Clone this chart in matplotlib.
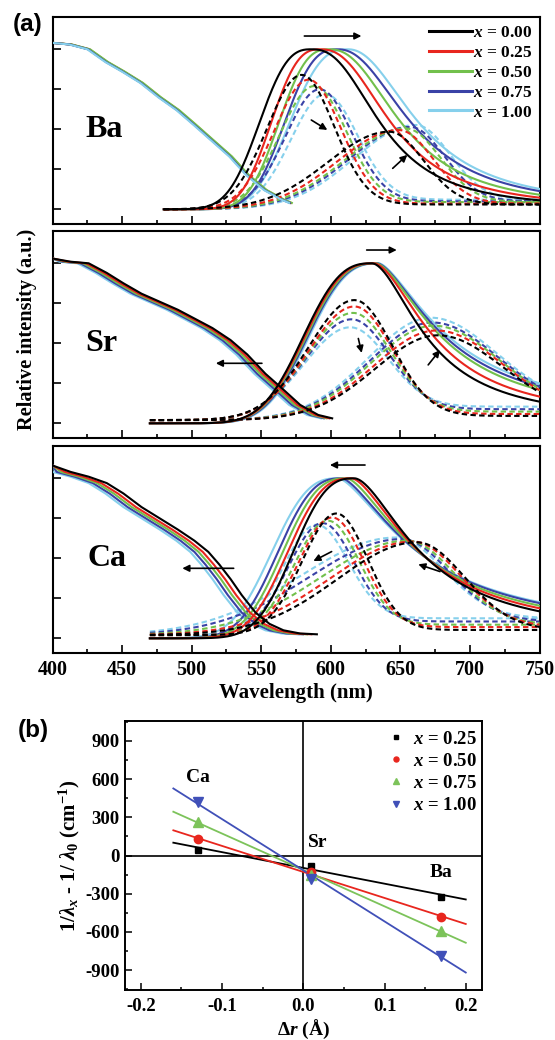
import numpy as np
import matplotlib
matplotlib.use("Agg")
import matplotlib.pyplot as plt
from matplotlib.ticker import MultipleLocator, FuncFormatter
from matplotlib.lines import Line2D

plt.rcParams['font.family'] = ['Liberation Serif', 'DejaVu Serif']
plt.rcParams['font.weight'] = 'bold'
plt.rcParams['mathtext.fontset'] = 'custom'
plt.rcParams['mathtext.rm'] = 'Liberation Serif:bold'
plt.rcParams['mathtext.it'] = 'Liberation Serif:italic:bold'
plt.rcParams['mathtext.bf'] = 'Liberation Serif:bold'
plt.rcParams['axes.unicode_minus'] = False

# ---------------- data: panel (a) ----------------
COMPOSITIONS = ['0.00', '0.25', '0.50', '0.75', '1.00']
COLORS = ['#000000', '#e8261e', '#72c04c', '#3a42a6', '#86d0ec']
PANELS = ['Ba', 'Sr', 'Ca']

# excitation spectra (x = 0.00), wavelength (nm) and relative intensity
BA_EXC_NM = [400, 413, 426, 439, 451, 464, 477, 490, 502, 515, 528, 540, 553, 566, 571]
BA_EXC_I = [1.04, 1.03, 1.0, 0.92, 0.86, 0.79, 0.70, 0.62, 0.53, 0.43, 0.33, 0.215, 0.12, 0.058, 0.04]
SR_EXC_NM = [400, 413, 426, 439, 451, 464, 477, 490, 502, 515, 528, 540, 553, 566, 578, 591, 601]
SR_EXC_I = [1.03, 1.01, 1.0, 0.94, 0.875, 0.81, 0.76, 0.71, 0.655, 0.595, 0.52, 0.43, 0.31, 0.21, 0.115, 0.052, 0.031]
CA_EXC_NM = [400, 413, 426, 439, 451, 464, 477, 490, 502, 512, 520, 528, 536, 546, 556, 566, 578, 590]
CA_EXC_I = [1.08, 1.04, 1.01, 0.97, 0.905, 0.82, 0.75, 0.68, 0.61, 0.54, 0.46, 0.37, 0.27, 0.16, 0.09, 0.05, 0.03, 0.025]
# shift of excitation edge for x = 0.00 ... 1.00 (nm)
BA_EXC_SHIFT = [0, 0.5, 1, -0.5, -1]
SR_EXC_SHIFT = [0, -2, -4, -6, -8]
CA_EXC_SHIFT = [0, -4, -7, -10, -13]

# emission spectra (solid): peak, half widths left/right, red-tail exponent
EM_START = [480, 470, 470]
EM_END = 750
EM_EDGE = 2.7
BA_EM_PEAK = [586, 592.5, 599, 605, 612.5]
BA_EM_HW_L = [39, 37, 38, 40, 44]
BA_EM_HW_R = [53, 54.5, 55.5, 57, 55]
BA_EM_TAIL = [2.5, 2.4, 2.3, 2.2, 2.1]
SR_EM_PEAK = [629.5, 631, 632.5, 633.5, 634.5]
SR_EM_HW_L = [51.5, 52, 52.5, 52.5, 52.5]
SR_EM_HW_R = [43, 47.5, 52, 54, 56]
SR_EM_TAIL = [1.8, 1.75, 1.63, 1.57, 1.52]
CA_EM_PEAK = [617, 615, 611.5, 608, 605.5]
CA_EM_HW_L = [46, 48, 48, 48, 50]
CA_EM_HW_R = [52, 54, 57.5, 61, 63.5]
CA_EM_TAIL = [1.7, 1.6, 1.55, 1.5, 1.5]

# Gaussian components (dashed): peak, height, half widths (left, right), baselines
BA_C1_PEAK = [579, 584, 588, 592, 596]
BA_C1_HEIGHT = [0.84, 0.81, 0.77, 0.75, 0.72]
BA_C1_HW = [29, 27.5]
BA_C2_PEAK = [642, 649, 654, 657, 661]
BA_C2_HEIGHT = [0.485, 0.495, 0.505, 0.515, 0.527]
BA_C2_HW_L = [52, 52, 52, 52, 52]
BA_C2_HW_R = 29
BA_BASE_L = 0.0
BA_BASE_R = [0.03, 0.035, 0.045, 0.05, 0.06]

SR_C1_PEAK = [617, 617, 616, 615, 614]
SR_C1_HEIGHT = [0.77, 0.73, 0.69, 0.65, 0.60]
SR_C1_HW = [39, 32]
SR_C2_PEAK = [677, 676, 674, 673, 672]
SR_C2_HEIGHT = [0.55, 0.58, 0.61, 0.63, 0.66]
SR_C2_HW_L = [53, 53, 53, 53, 53]
SR_C2_HW_R = 55
SR_BASE_L = 0.02
SR_BASE_R = [0.046, 0.058, 0.073, 0.088, 0.104]

CA_C1_PEAK = [604, 601, 598, 594, 590]
CA_C1_HEIGHT = [0.78, 0.755, 0.735, 0.72, 0.71]
CA_C1_HW = [29, 26.6]
CA_C2_PEAK = [662, 659, 655, 651, 647]
CA_C2_HEIGHT = [0.60, 0.605, 0.61, 0.62, 0.63]
CA_C2_HW_L = [67, 70, 74, 78, 81]
CA_C2_HW_R = 40
CA_BASE_L = 0.02
CA_BASE_R = [0.052, 0.07, 0.085, 0.105, 0.125]

# ---------------- data: panel (b) ----------------
DELTA_R = [-0.13, 0.01, 0.17]          # Ca, Sr, Ba
SITE_LABELS = ['Ca', 'Sr', 'Ba']
B_COMPOSITIONS = ['0.25', '0.50', '0.75', '1.00']
SHIFT_025 = [47, -79, -322]
SHIFT_050 = [126, -130, -485]
SHIFT_075 = [262, -150, -595]
SHIFT_100 = [419, -181, -786]
FIT_RANGE = [-0.16, 0.20]
B_COLORS = ['#000000', '#e8261e', '#7cc35a', '#4050b8']
B_MARKERS = ['s', 'o', '^', 'v']

# ---------------- helpers ----------------
LN2 = np.log(2.0)


def emission(lam, mu, wl, wr, tail):
    d = lam - mu
    left = np.exp(-LN2 * (np.abs(d) / wl) ** EM_EDGE)
    right = 1.0 / (1.0 + (np.abs(d) / wr) ** tail)
    return np.where(d < 0, left, right)


def component(lam, mu, h, wl, wr, bl, br):
    d = lam - mu
    w = np.where(d < 0, wl, wr)
    g = np.exp(-LN2 * (d / w) ** 2)
    base = np.where(d < 0, bl, br)
    return base + (h - base) * g


W, H = 555, 1040
fig = plt.figure(figsize=(W / 100, H / 100), dpi=100)

ax_left = 52.5 / W
ax_w = 487 / W
ax_h = 206.4 / H
bottoms = [1 - 223.7 / H, 1 - 437.7 / H, 1 - 652.7 / H]

exc_nm = [BA_EXC_NM, SR_EXC_NM, CA_EXC_NM]
exc_i = [BA_EXC_I, SR_EXC_I, CA_EXC_I]
exc_shift = [BA_EXC_SHIFT, SR_EXC_SHIFT, CA_EXC_SHIFT]
em_peak = [BA_EM_PEAK, SR_EM_PEAK, CA_EM_PEAK]
em_hwl = [BA_EM_HW_L, SR_EM_HW_L, CA_EM_HW_L]
em_hwr = [BA_EM_HW_R, SR_EM_HW_R, CA_EM_HW_R]
em_tail = [BA_EM_TAIL, SR_EM_TAIL, CA_EM_TAIL]
c1_peak = [BA_C1_PEAK, SR_C1_PEAK, CA_C1_PEAK]
c1_h = [BA_C1_HEIGHT, SR_C1_HEIGHT, CA_C1_HEIGHT]
c1_hw = [BA_C1_HW, SR_C1_HW, CA_C1_HW]
c2_peak = [BA_C2_PEAK, SR_C2_PEAK, CA_C2_PEAK]
c2_h = [BA_C2_HEIGHT, SR_C2_HEIGHT, CA_C2_HEIGHT]
c2_hwl = [BA_C2_HW_L, SR_C2_HW_L, CA_C2_HW_L]
c2_hwr = [BA_C2_HW_R, SR_C2_HW_R, CA_C2_HW_R]
base_l = [BA_BASE_L, SR_BASE_L, CA_BASE_L]
base_r = [BA_BASE_R, SR_BASE_R, CA_BASE_R]

# arrows (tail -> head), nm / intensity
ARROWS = [
    [((581, 1.083), (622, 1.083)), ((586, 0.558), (597.5, 0.496)), ((644.5, 0.256), (655, 0.34))],
    [((625.8, 1.083), (647.4, 1.083)), ((550.5, 0.375), (517.4, 0.375)),
     ((619.8, 0.53), (622.2, 0.44)), ((670, 0.365), (678.5, 0.458))],
    [((624.6, 1.083), (599.4, 1.083)), ((530.2, 0.4375), (493.3, 0.4375)),
     ((600.6, 0.542), (587.5, 0.483)), ((678.5, 0.417), (662.9, 0.4625))],
]
LABEL_POS = [(437.3, 0.45), (434.9, 0.45), (439.2, 0.45)]

dash = (0, (2.6, 1.6))
axes_a = []
for p in range(3):
    ax = fig.add_axes([ax_left, bottoms[p], ax_w, ax_h])
    axes_a.append(ax)
    lam = np.linspace(EM_START[p], EM_END, 600)
    for k in reversed(range(5)):
        col = COLORS[k]
        z = 10 - k
        ex_x = np.array(exc_nm[p], float) + exc_shift[p][k]
        ex_x = np.maximum(ex_x, 400)
        ez = (5 + k) if p == 0 else z
        ax.plot(ex_x, exc_i[p], color=col, lw=1.5, zorder=ez)
        ax.plot(lam, emission(lam, em_peak[p][k], em_hwl[p][k], em_hwr[p][k], em_tail[p][k]),
                color=col, lw=1.5, zorder=z)
        ax.plot(lam, component(lam, c1_peak[p][k], c1_h[p][k], c1_hw[p][0], c1_hw[p][1],
                               base_l[p], base_r[p][k]),
                color=col, lw=1.5, ls=dash, zorder=z - 0.5)
        ax.plot(lam, component(lam, c2_peak[p][k], c2_h[p][k], c2_hwl[p][k], c2_hwr[p],
                               base_l[p], base_r[p][k]),
                color=col, lw=1.5, ls=dash, zorder=z - 0.5)
    for (t, h) in ARROWS[p]:
        ax.annotate('', xy=h, xytext=t,
                    arrowprops=dict(arrowstyle='-|>', color='k', lw=1.2,
                                    mutation_scale=10, shrinkA=0, shrinkB=0), zorder=20)
    ax.text(LABEL_POS[p][0], LABEL_POS[p][1], PANELS[p], fontsize=23, fontweight='bold',
            ha='center', va='baseline')
    ax.set_xlim(400, 750)
    ax.set_ylim(-0.09, 1.2)
    ax.xaxis.set_major_locator(MultipleLocator(50))
    ax.xaxis.set_minor_locator(MultipleLocator(25))
    ax.set_yticks([0, 0.25, 0.5, 0.75, 1.0])
    ax.tick_params(axis='both', which='major', direction='in', length=5.5, width=1.2,
                   labelsize=14.5, pad=5.5)
    ax.tick_params(axis='both', which='minor', direction='in', length=2.7, width=1.2)
    ax.tick_params(axis='y', labelleft=False)
    if p < 2:
        ax.tick_params(axis='x', labelbottom=False)
    for s in ax.spines.values():
        s.set_linewidth(1.5)

handles = [Line2D([], [], color=COLORS[k], lw=2.2) for k in range(5)]
labels = [r'$x$ = ' + c for c in COMPOSITIONS]
axes_a[0].legend(handles, labels, loc='upper right', bbox_to_anchor=(0.985, 0.965),
                 frameon=False, fontsize=12.5, handlelength=2.5, handletextpad=0.05,
                 labelspacing=0.22, borderpad=0, borderaxespad=0)

axes_a[2].set_xlabel('Wavelength (nm)', fontsize=15, fontweight='bold')
axes_a[2].xaxis.set_label_coords(0.5, -0.148)
fig.text(27 / W, 1 - 329 / H, 'Relative intensity (a.u.)', rotation=90, fontsize=14.7,
         fontweight='bold', ha='center', va='center')
fig.text(27.5 / W, 1 - 25 / H, '(a)', fontsize=17.5, fontweight='bold',
         family=['Liberation Sans', 'DejaVu Sans'], ha='center', va='center')
fig.text(33.6 / W, 1 - 731 / H, '(b)', fontsize=17.5, fontweight='bold',
         family=['Liberation Sans', 'DejaVu Sans'], ha='center', va='center')

# ---------------- panel (b) ----------------
axb = fig.add_axes([124.6 / W, 1 - 990 / H, 357.4 / W, 269 / H])
axb.axhline(0, color='k', lw=1.2, zorder=1)
axb.axvline(0, color='k', lw=1.2, zorder=1)
series_b = [SHIFT_025, SHIFT_050, SHIFT_075, SHIFT_100]
msizes = [5, 6, 6.5, 6.5]
for k, vals in enumerate(series_b):
    slope, icpt = np.polyfit(DELTA_R, vals, 1)
    fx = np.array(FIT_RANGE)
    axb.plot(fx, slope * fx + icpt, color=B_COLORS[k], lw=1.3, zorder=2)
    axb.plot(DELTA_R, vals, ls='none', marker=B_MARKERS[k], color=B_COLORS[k],
             ms=msizes[k], zorder=3, label=r'$x$ = ' + B_COMPOSITIONS[k])
axb.text(-0.13, 613, 'Ca', fontsize=14, fontweight='bold', ha='center', va='center')
axb.text(0.018, 100, 'Sr', fontsize=14, fontweight='bold', ha='center', va='center')
axb.text(0.17, -134, 'Ba', fontsize=14, fontweight='bold', ha='center', va='center')
axb.set_xlim(-0.22, 0.22)
axb.set_ylim(-1055, 1055)
axb.xaxis.set_major_locator(MultipleLocator(0.1))
axb.xaxis.set_minor_locator(MultipleLocator(0.05))
axb.set_yticks([-900, -600, -300, 0, 300, 600, 900])
axb.yaxis.set_minor_locator(MultipleLocator(150))
axb.xaxis.set_major_formatter(FuncFormatter(lambda v, pos: f'{v:.1f}'.replace('-0.0', '0.0')))
axb.tick_params(axis='both', which='major', direction='in', length=5, width=1.1,
                labelsize=13.5)
axb.tick_params(axis='y', which='major', pad=3.5)
axb.tick_params(axis='x', which='major', pad=6)
axb.tick_params(axis='both', which='minor', direction='in', length=2.5, width=1.1)
for s in axb.spines.values():
    s.set_linewidth(1.4)
axb.legend(loc='upper right', bbox_to_anchor=(0.985, 0.965), frameon=False, fontsize=13.5,
           handlelength=1.2, handletextpad=0.3, labelspacing=0.27, borderpad=0,
           borderaxespad=0, markerscale=0.6)
axb.set_ylabel(r'1/$\lambda_x$ - 1/ $\lambda_0$ (cm$^{-1}$)', fontsize=15, fontweight='bold')
axb.yaxis.set_label_coords(-0.12, 0.5)
axb.set_xlabel(r'$\Delta r$ (Å)', fontsize=14, fontweight='bold')
axb.xaxis.set_label_coords(0.5, -0.105)

fig.savefig('out.png', dpi=100)
